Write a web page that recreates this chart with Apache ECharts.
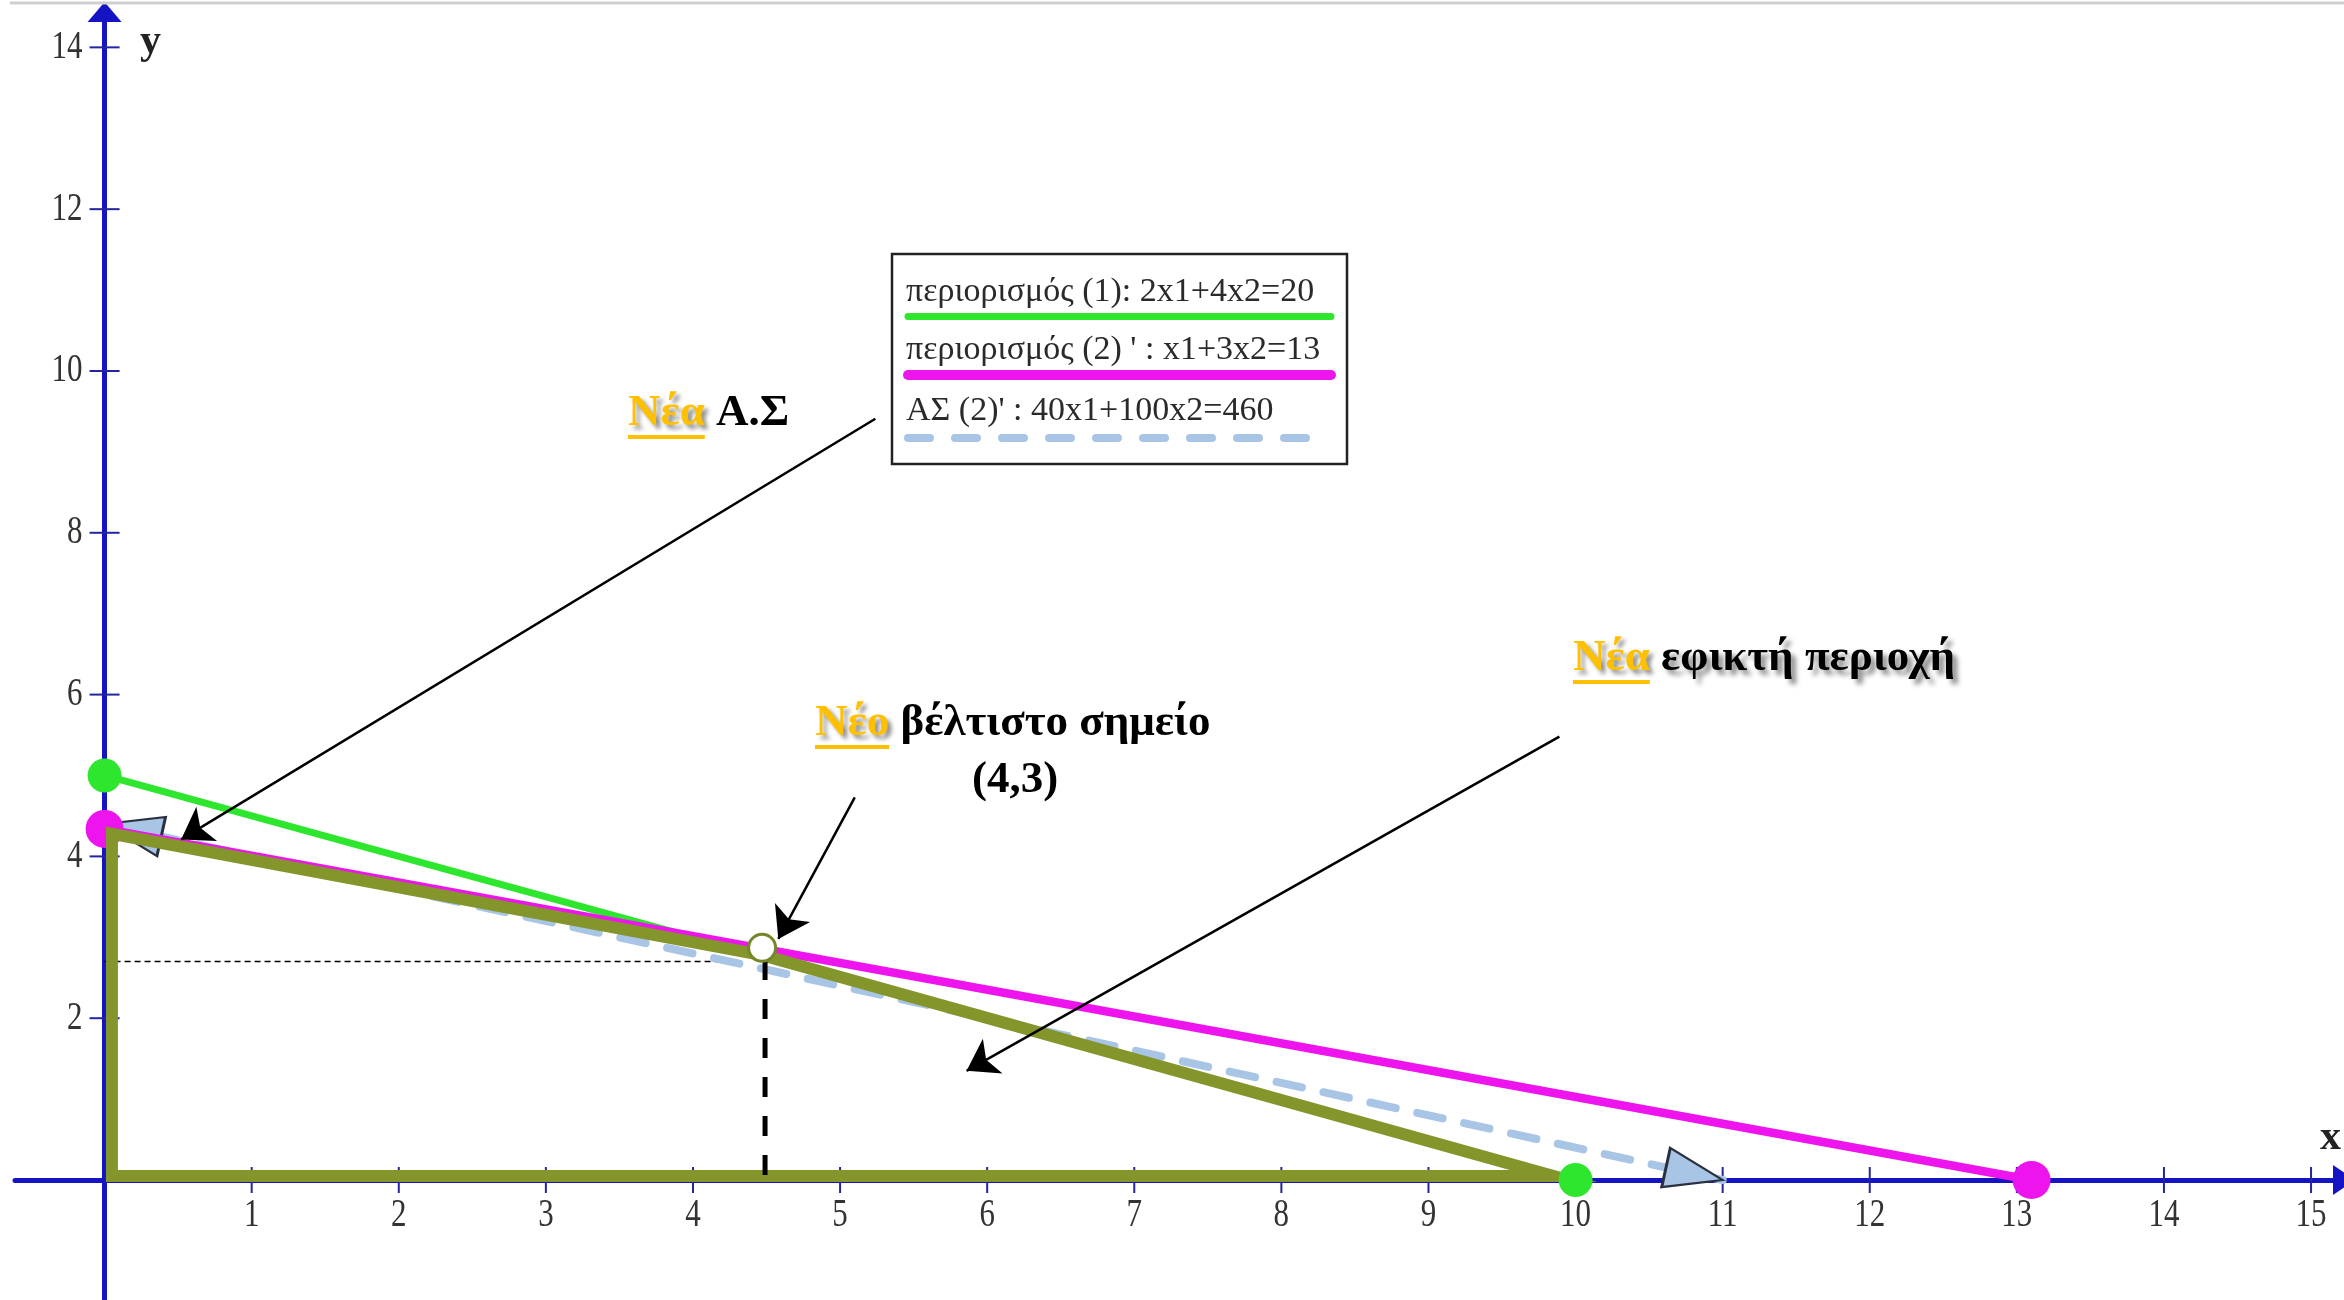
<!DOCTYPE html>
<html>
<head>
<meta charset="utf-8">
<script src="https://cdn.jsdelivr.net/npm/echarts@6/dist/echarts.min.js"></script>
<style>
html,body{margin:0;padding:0;background:#fff;}
#chart{width:2344px;height:1300px;}
</style>
</head>
<body>
<div id="chart"></div>
<script>
// ---------- data ----------
const xTickValues = [1,2,3,4,5,6,7,8,9,10,11,12,13,14,15];
const yTickValues = [2,4,6,8,10,12,14];

const c1Name = 'περιορισμός (1): 2x1+4x2=20';
const c1Points = [[0, 5], [10, 0]];

const c2Name = "περιορισμός (2) ' : x1+3x2=13";
const c2Points = [[0, 4.34], [13.1, 0]];

const objName = "ΑΣ (2)' : 40x1+100x2=460";
const objPoints = [[0, 4.4], [11, 0]];

const feasibleRegion = [[0.05, 0.05], [0.05, 4.28], [4.47, 2.78], [9.85, 0.05]];
const optimumPoint = [4.47, 2.87];
const guideH = [[0, 2.70], [4.33, 2.70]];
const guideV = [[4.49, 2.72], [4.49, 0.06]];

// annotation arrows: [from, to] in data units
const pointerArrows = [
  [[5.24, 9.41], [0.52, 4.21]],
  [[5.10, 4.73], [4.58, 2.98]],
  [[9.89, 5.48], [5.86, 1.35]]
];

const annLabels = [
  { word: 'Νέα', rest: 'Α.Σ', shadow: false },
  { word: 'Νέο', rest: 'βέλτιστο σημείο', shadow: false },
  { word: 'Νέα', rest: 'εφικτή περιοχή', shadow: true }
];
const optimumLabel = '(4,3)';

// ---------- layout constants ----------
const X_MIN = -0.609, X_MAX = 15.224, Y_MIN = -1.483, Y_MAX = 14.437;
const AXIS_BLUE = '#1414c4';
const GREEN = '#2ee62e', MAGENTA = '#ee14ee', LIGHTBLUE = '#a9c5e6', OLIVE = '#84952b', GOLD = '#FFC000';
const SERIF = '"Liberation Serif", "DejaVu Serif", serif';

const chart = echarts.init(document.getElementById('chart'), null, {renderer: 'canvas'});

function measure(text, font) {
  const ctx = document.createElement('canvas').getContext('2d');
  ctx.font = font;
  return ctx.measureText(text).width;
}

// tick marks crossing the axis + tick labels, placed through the chart's scales
function tickSeries(values, dim) {
  return {
    type: 'custom', coordinateSystem: 'cartesian2d', silent: true, z: 3, clip: false,
    data: values.map(v => dim === 'x' ? [v, 0] : [0, v]),
    renderItem: function (params, api) {
      const p = api.coord([api.value(0), api.value(1)]);
      const L = dim === 'x' ? 13 : 15;
      const v = dim === 'x' ? api.value(0) : api.value(1);
      const shape = dim === 'x'
        ? {x1: p[0], y1: p[1] - L, x2: p[0], y2: p[1] + L}
        : {x1: p[0] - L, y1: p[1], x2: p[0] + L, y2: p[1]};
      const label = dim === 'x'
        ? {type: 'text', x: p[0], y: p[1] + 36, scaleY: 1.28,
           style: {text: String(v), font: '31px ' + SERIF, fill: '#333', align: 'center', verticalAlign: 'middle'}}
        : {type: 'text', x: p[0] - 22, y: p[1], scaleY: 1.28,
           style: {text: String(v), font: '31px ' + SERIF, fill: '#333', align: 'right', verticalAlign: 'middle'}};
      return {type: 'group', children: [
        {type: 'line', shape: shape, style: {stroke: '#2424a0', lineWidth: 2}},
        label
      ]};
    }
  };
}

function buildGraphics() {
  const g = [];
  // top border line
  g.push({type: 'line', shape: {x1: 10, y1: 3, x2: 2344, y2: 3}, style: {stroke: '#cfcfcf', lineWidth: 3}, z: 1});
  // axis names
  g.push({type: 'text', x: 140, y: 42, style: {text: 'y', font: 'bold 42px ' + SERIF, fill: '#222', verticalAlign: 'middle'}, z: 10});
  g.push({type: 'text', x: 2320, y: 1138, style: {text: 'x', font: 'bold 42px ' + SERIF, fill: '#222', verticalAlign: 'middle'}, z: 10});

  // legend box
  const LX = 892, LY = 254, LW = 455, LH = 210;
  g.push({type: 'rect', shape: {x: LX, y: LY, width: LW, height: LH}, style: {fill: '#fff', stroke: '#222', lineWidth: 2.5}, z: 5});
  const legendFont = '34px ' + SERIF;
  const rows = [
    {name: c1Name, baseline: 303, lineY: 316.5, color: GREEN, width: 7, dash: null},
    {name: c2Name, baseline: 361, lineY: 375, color: MAGENTA, width: 10, dash: null},
    {name: objName, baseline: 422, lineY: 438, color: LIGHTBLUE, width: 8, dash: [22, 25]}
  ];
  rows.forEach(r => {
    g.push({type: 'text', x: 906, y: r.baseline - 11, style: {text: r.name, font: legendFont, fill: '#2a2a2a', verticalAlign: 'middle'}, z: 6});
    g.push({type: 'line', shape: {x1: 908, y1: r.lineY, x2: 1331, y2: r.lineY},
      style: {stroke: r.color, lineWidth: r.width, lineCap: 'round', lineDash: r.dash}, z: 6});
  });

  // annotations
  const annFont = 'bold 45px ' + SERIF;
  const annPos = [[628, 428], [815, 738], [1573, 673]];
  annLabels.forEach((a, i) => {
    const x = annPos[i][0], base = annPos[i][1];
    const w1 = measure(a.word, annFont);
    const wsp = measure(a.word + ' ', annFont);
    const yMid = base - 15;
    g.push({type: 'text', x: x, y: yMid, z: 10, style: {
      text: a.word, font: annFont, fill: GOLD, verticalAlign: 'middle',
      textShadowColor: 'rgba(0,0,0,0.45)', textShadowBlur: 4, textShadowOffsetX: 4, textShadowOffsetY: 4}});
    g.push({type: 'line', z: 10, shape: {x1: x, y1: base + 9, x2: x + w1, y2: base + 9}, style: {stroke: GOLD, lineWidth: 4}});
    const restStyle = {text: a.rest, font: annFont, fill: '#000', verticalAlign: 'middle'};
    if (a.shadow) {
      Object.assign(restStyle, {textShadowColor: 'rgba(0,0,0,0.45)', textShadowBlur: 5, textShadowOffsetX: 5, textShadowOffsetY: 5});
    }
    g.push({type: 'text', x: x + wsp, y: yMid, z: 10, style: restStyle});
  });
  g.push({type: 'text', x: 1015, y: 780, z: 10, style: {text: optimumLabel, font: annFont, fill: '#000', align: 'center', verticalAlign: 'middle'}});
  return g;
}

function buildOption(objSymbols) {
  return {
    animation: false,
    backgroundColor: '#fff',
    textStyle: {fontFamily: SERIF},
    grid: {left: 15, right: 0, top: 12, bottom: 0, containLabel: false, outerBoundsMode: 'none'},
    xAxis: {
      type: 'value', min: X_MIN, max: X_MAX,
      axisLine: {show: true, onZero: true, symbol: ['none', 'triangle'], symbolSize: [30, 22],
        lineStyle: {color: AXIS_BLUE, width: 5}},
      axisTick: {show: false},
      axisLabel: {show: false},
      splitLine: {show: false}
    },
    yAxis: {
      type: 'value', min: Y_MIN, max: Y_MAX,
      axisLine: {show: true, onZero: true, symbol: ['none', 'triangle'], symbolSize: [34, 20],
        lineStyle: {color: AXIS_BLUE, width: 5}},
      axisTick: {show: false},
      axisLabel: {show: false},
      splitLine: {show: false}
    },
    graphic: buildGraphics(),
    series: [
      tickSeries(xTickValues, 'x'),
      tickSeries(yTickValues, 'y'),
      {
        name: c1Name, type: 'line', z: 4, silent: true,
        data: c1Points, symbol: 'none',
        lineStyle: {color: GREEN, width: 7, cap: 'round'}
      },
      {
        name: objName, type: 'line', z: 5, silent: true,
        data: objPoints.map((p, i) => ({
          value: p,
          symbol: objSymbols ? 'triangle' : 'none',
          symbolSize: [40, 58],
          symbolRotate: objSymbols ? objSymbols[i].rotate : 0,
          symbolOffset: objSymbols ? objSymbols[i].offset : [0, 0]
        })),
        showSymbol: true,
        itemStyle: {color: LIGHTBLUE, borderColor: '#2a3040', borderWidth: 2.5},
        lineStyle: {color: LIGHTBLUE, width: 8, type: [26, 22], cap: 'round'}
      },
      {
        name: c2Name, type: 'line', z: 6, silent: true,
        data: c2Points, symbol: 'none',
        lineStyle: {color: MAGENTA, width: 8.5, cap: 'round'}
      },
      {
        name: 'feasible', type: 'custom', coordinateSystem: 'cartesian2d', z: 7, silent: true, clip: false,
        data: [0],
        renderItem: function (params, api) {
          const pts = feasibleRegion.map(p => api.coord(p));
          return {type: 'polygon', shape: {points: pts},
            style: {fill: 'none', stroke: OLIVE, lineWidth: 12, lineJoin: 'miter', miterLimit: 20}};
        }
      },
      {
        name: 'c1 ends', type: 'scatter', z: 8, silent: true,
        data: c1Points, symbol: 'circle', symbolSize: 34, itemStyle: {color: GREEN, opacity: 1}
      },
      {
        name: 'c2 ends', type: 'scatter', z: 6, silent: true,
        data: c2Points, symbol: 'circle', symbolSize: 38, itemStyle: {color: MAGENTA, opacity: 1}
      },
      {
        name: 'guideH', type: 'line', z: 3, silent: true, data: guideH, symbol: 'none',
        lineStyle: {color: '#000', width: 1.5, type: [6, 4]}
      },
      {
        name: 'guideV', type: 'line', z: 9, silent: true, data: guideV, symbol: 'none',
        lineStyle: {color: '#000', width: 5, type: [20, 19]}
      },
      {
        name: 'optimum', type: 'scatter', z: 10, silent: true,
        data: [optimumPoint], symbol: 'circle', symbolSize: 27,
        itemStyle: {color: '#fff', borderColor: '#76862a', borderWidth: 3, opacity: 1}
      },
      {
        name: 'pointers', type: 'lines', coordinateSystem: 'cartesian2d', z: 12, silent: true,
        data: pointerArrows.map(a => ({coords: a})),
        symbol: ['none', 'arrow'], symbolSize: [20, 30],
        lineStyle: {color: '#000', width: 2.5, opacity: 1, curveness: 0},
        effect: {show: false}
      }
    ]
  };
}

chart.setOption(buildOption(null));

// compute arrow-head rotation/offset for the objective line using the chart's own scales
const p0 = chart.convertToPixel({gridIndex: 0}, objPoints[0]);
const p1 = chart.convertToPixel({gridIndex: 0}, objPoints[1]);
const len = Math.hypot(p1[0] - p0[0], p1[1] - p0[1]);
const d = [(p1[0] - p0[0]) / len, (p1[1] - p0[1]) / len];
const H = 58;
function symFor(dir) {
  const theta = Math.atan2(-dir[1], dir[0]) * 180 / Math.PI;
  return {rotate: theta - 90, offset: [-dir[0] * H / 2, -dir[1] * H / 2]};
}
const objSymbols = [symFor([-d[0], -d[1]]), symFor(d)];
chart.setOption(buildOption(objSymbols), true);
</script>
</body>
</html>
